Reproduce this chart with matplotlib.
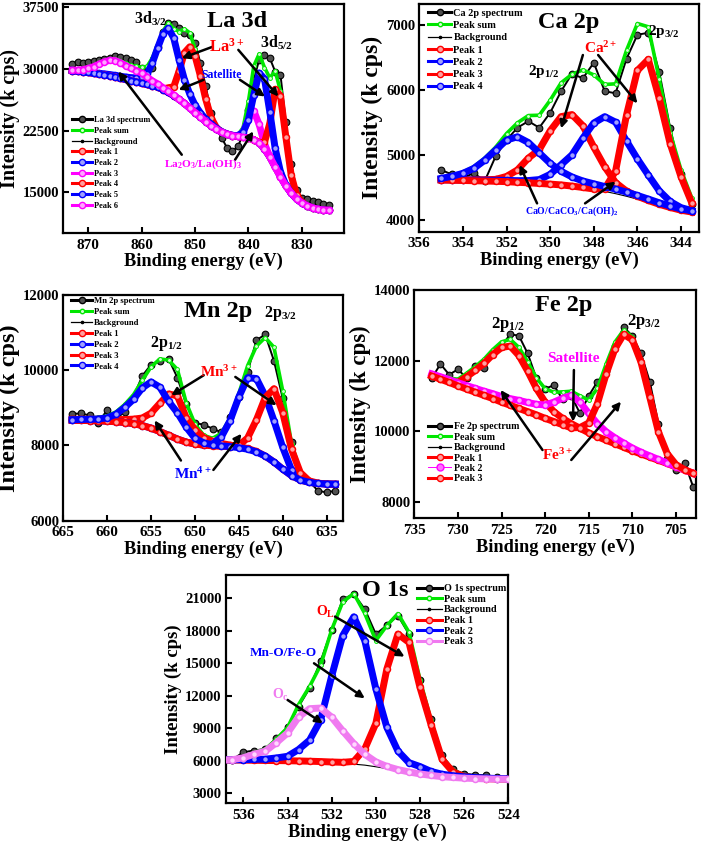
import matplotlib
matplotlib.use("Agg")
import matplotlib.pyplot as plt
import numpy as np
from matplotlib.lines import Line2D

plt.rcParams['font.family'] = ['Liberation Serif', 'DejaVu Serif']
plt.rcParams['font.weight'] = 'bold'
plt.rcParams['axes.labelweight'] = 'bold'
plt.rcParams['mathtext.fontset'] = 'custom'
plt.rcParams['mathtext.rm'] = 'Liberation Serif:bold'
plt.rcParams['mathtext.it'] = 'Liberation Serif:bold'
plt.rcParams['mathtext.bf'] = 'Liberation Serif:bold'
plt.rcParams['mathtext.default'] = 'regular'

# ---------------- La 3d (873 -> 825 eV, 1 eV step) ----------------
la_energy = [873, 872, 871, 870, 869, 868, 867, 866, 865, 864,
             863, 862, 861, 860, 859, 858, 857, 856, 855, 854,
             853, 852, 851, 850, 849, 848, 847, 846, 845, 844,
             843, 842, 841, 840, 839, 838, 837, 836, 835, 834,
             833, 832, 831, 830, 829, 828, 827, 826, 825]
la_spectrum = [30620, 30900, 30700, 30900, 31020, 31100, 31190, 31310, 31590, 31500,
               31300, 31100, 30900, 30100, 29690, 30100, 32720, 34550, 35640, 35480,
               34950, 34340, 34140, 33130, 30700, 27870, 24630, 22810, 21600, 20380,
               19980, 20580, 22000, 25040, 28680, 31110, 31710, 31310, 29690, 29280,
               23500, 18500, 15320, 14310, 14190, 13900, 13780, 13620, 13500]
la_background = [29800, 29730, 29650, 29570, 29470, 29370, 29270, 29160, 29020, 28870,
                 28720, 28560, 28420, 28270, 28110, 27950, 27790, 27500, 27150, 26750,
                 26300, 25800, 25250, 24700, 24150, 23600, 23100, 22650, 22300, 22050,
                 21900, 21800, 21700, 21600, 21400, 21000, 20300, 19300, 18100, 16900,
                 15800, 14900, 14200, 13700, 13350, 13100, 12950, 12850, 12800]
# fitted components, height above background
la_peak1 = [0, 0, 0, 0, 0, 0, 0, 0, 0, 0,
            0, 0, 0, 0, 0, 0, 0, 90, 560, 1090,
            3440, 6170, 7440, 6860, 4980, 2700, 970, 210, 0, 0,
            0, 0, 0, 0, 0, 0, 0, 0, 0, 0,
            0, 0, 0, 0, 0, 0, 0, 0, 0]
la_peak2 = [30, 40, 50, 60, 80, 100, 130, 160, 200, 240,
            300, 380, 500, 750, 1300, 2800, 4800, 6800, 7800, 7000,
            4800, 2900, 1700, 900, 500, 300, 200, 130, 80, 50,
            30, 0, 0, 0, 0, 0, 0, 0, 0, 0,
            0, 0, 0, 0, 0, 0, 0, 0, 0]
la_peak3 = [0, 0, 0, 0, 0, 0, 0, 0, 0, 0,
            0, 0, 0, 0, 0, 0, 0, 0, 0, 0,
            0, 0, 0, 0, 0, 0, 0, 0, 0, 0,
            0, 65, 590, 2250, 3500, 2250, 590, 65, 0, 0,
            0, 0, 0, 0, 0, 0, 0, 0, 0]
la_peak4 = [0, 0, 0, 0, 0, 0, 0, 0, 0, 0,
            0, 0, 0, 0, 0, 0, 0, 0, 0, 0,
            0, 0, 0, 0, 0, 0, 0, 0, 0, 0,
            0, 0, 0, 0, 0, 65, 775, 4090, 9420, 9820,
            5950, 2190, 490, 65, 0, 0, 0, 0, 0]
la_peak5 = [0, 0, 0, 0, 0, 0, 0, 0, 0, 0,
            0, 0, 0, 0, 0, 0, 0, 0, 0, 0,
            0, 0, 0, 0, 0, 0, 0, 0, 0, 0,
            0, 100, 590, 2240, 5460, 8510, 8510, 5460, 2240, 590,
            100, 0, 0, 0, 0, 0, 0, 0, 0]
la_peak6 = [55, 130, 270, 500, 820, 1210, 1600, 1890, 2000, 1890,
            1700, 1500, 1380, 1200, 900, 600, 380, 220, 120, 60,
            0, 0, 0, 0, 0, 0, 0, 0, 0, 0,
            0, 0, 0, 0, 0, 0, 0, 0, 0, 0,
            0, 0, 0, 0, 0, 0, 0, 0, 0]

# ---------------- Ca 2p (355 -> 343.5 eV, 0.5 eV step) ----------------
ca_energy = [355, 354.5, 354, 353.5, 353, 352.5, 352, 351.5, 351, 350.5, 350, 349.5,
             349, 348.5, 348, 347.5, 347, 346.5, 346, 345.5, 345, 344.5, 344, 343.5]
ca_spectrum = [4770, 4700, 4650, 4720, 4600, 4980, 5230, 5420, 5520, 5420, 5650, 5980,
               6250, 6180, 6420, 5980, 5950, 6480, 6850, 6880, 6280, 5420, 4700, 4250]
ca_background = [4615, 4612, 4608, 4604, 4600, 4595, 4590, 4580, 4572, 4562, 4552, 4540,
                 4522, 4500, 4472, 4440, 4405, 4365, 4320, 4270, 4220, 4175, 4135, 4110]
ca_peak1 = [5, 8, 10, 15, 20, 30, 80, 190, 380, 520, 820, 1050,
            1100, 950, 650, 380, 170, 80, 45, 30, 22, 18, 15, 12]
ca_peak2 = [5, 5, 8, 10, 12, 15, 20, 25, 35, 60, 150, 310,
            480, 760, 1020, 1150, 1100, 850, 620, 420, 230, 110, 55, 35]
ca_peak3 = [0, 0, 0, 0, 0, 0, 0, 0, 0, 0, 0, 0,
            0, 0, 5, 40, 350, 1250, 1980, 2200, 1650, 1000, 530, 146]
ca_peak4 = [25, 60, 110, 190, 320, 480, 640, 700, 620, 470, 320, 210,
            140, 100, 85, 75, 70, 65, 58, 52, 45, 40, 35, 30]

# ---------------- Mn 2p (664 -> 634 eV, 1 eV step) ----------------
mn_energy = [664, 663, 662, 661, 660, 659, 658, 657, 656, 655, 654,
             653, 652, 651, 650, 649, 648, 647, 646, 645, 644,
             643, 642, 641, 640, 639, 638, 637, 636, 635, 634]
mn_spectrum = [8840, 8850, 8800, 8600, 8950, 8700, 8900, 9300, 9850, 10150, 10250,
               10300, 9800, 9100, 8600, 8550, 8450, 8350, 8750, 9300, 9950,
               10800, 10950, 10250, 9250, 8100, 7250, 7050, 6800, 6750, 6800]
mn_background = [8667, 8667, 8660, 8655, 8645, 8630, 8610, 8580, 8530, 8460, 8370,
                 8270, 8170, 8090, 8040, 8010, 7990, 7975, 7960, 7940, 7900,
                 7830, 7720, 7560, 7370, 7200, 7080, 7020, 6990, 6975, 6970]
mn_peak1 = [30, 30, 35, 40, 50, 60, 80, 120, 200, 400, 750,
            1100, 1150, 650, 380, 200, 120, 80, 50, 30, 20,
            10, 0, 0, 0, 0, 0, 0, 0, 0, 0]
mn_peak2 = [0, 0, 0, 0, 0, 0, 0, 0, 0, 0, 0,
            0, 0, 0, 0, 0, 50, 250, 700, 1350, 1900,
            1950, 1600, 1100, 580, 150, 30, 5, 0, 0, 0]
mn_peak3 = [0, 0, 0, 0, 0, 0, 0, 0, 0, 0, 0,
            0, 0, 0, 0, 0, 0, 0, 10, 60, 300,
            850, 1550, 1950, 1500, 700, 200, 40, 10, 0, 0]
mn_peak4 = [20, 25, 35, 50, 90, 200, 400, 650, 1000, 1230, 1180,
            900, 700, 400, 150, 60, 30, 15, 10, 0, 0,
            0, 0, 0, 0, 0, 0, 0, 0, 0, 0]

# ---------------- Fe 2p (733 -> 703 eV, 1 eV step) ----------------
fe_energy = [733, 732, 731, 730, 729, 728, 727, 726, 725, 724, 723,
             722, 721, 720, 719, 718, 717, 716, 715, 714, 713,
             712, 711, 710, 709, 708, 707, 706, 705, 704, 703]
fe_spectrum = [11500, 11900, 11600, 11750, 11500, 11850, 11800, 12200, 12400, 12750, 12700,
               12200, 11500, 11200, 11300, 10900, 11000, 10500, 11000, 11400, 11700,
               12400, 12950, 12700, 12200, 11400, 10200, 9200, 8900, 9100, 8400]
fe_background = [11560, 11470, 11380, 11280, 11190, 11100, 11010, 10920, 10820, 10730, 10640,
                 10550, 10460, 10360, 10270, 10180, 10090, 10000, 9900, 9810, 9720,
                 9630, 9540, 9440, 9350, 9260, 9170, 9080, 8980, 8890, 8800]
fe_peak1 = [10, 20, 40, 100, 350, 620, 910, 1250, 1550, 1680, 1500,
            1150, 750, 460, 280, 180, 120, 80, 50, 30, 20,
            10, 0, 0, 0, 0, 0, 0, 0, 0, 0]
fe_peak2 = [60, 70, 80, 90, 100, 110, 120, 140, 160, 190, 230,
            260, 300, 380, 550, 750, 920, 820, 600, 400, 260,
            180, 120, 80, 50, 35, 25, 15, 10, 5, 0]
fe_peak3 = [0, 0, 0, 0, 0, 0, 0, 0, 0, 0, 0,
            0, 0, 0, 0, 0, 0, 100, 330, 970, 1900,
            2700, 3200, 3150, 2600, 1700, 800, 280, 70, 15, 0]

# ---------------- O 1s (537 -> 524 eV, 0.5 eV step) ----------------
o_energy = [537, 536.5, 536, 535.5, 535, 534.5, 534, 533.5, 533, 532.5, 532, 531.5, 531, 530.5,
            530, 529.5, 529, 528.5, 528, 527.5, 527, 526.5, 526, 525.5, 525, 524.5, 524]
o_spectrum = [6050, 6100, 6800, 6950, 7100, 8100, 9100, 11000, 12700, 15200, 18100, 20900, 21400, 20000,
              17700, 18500, 19400, 17700, 13500, 9900, 6500, 5200, 4800, 4700, 4650, 4500, 4400]
o_background = [6050, 6040, 6030, 6015, 6000, 5985, 5965, 5940, 5910, 5870, 5820, 5760, 5690, 5600,
                5450, 5280, 5100, 4930, 4770, 4640, 4530, 4460, 4400, 4360, 4330, 4310, 4300]
o_peak1 = [30, 30, 30, 30, 30, 35, 40, 45, 50, 60, 70, 100, 250, 1500,
           4000, 9200, 12600, 12000, 8000, 4700, 1600, 500, 150, 50, 20, 10, 5]
o_peak2 = [40, 50, 70, 120, 150, 280, 450, 1100, 2000, 3900, 8000, 11800, 13600, 11500,
           7200, 3800, 1800, 900, 700, 380, 230, 160, 120, 90, 70, 55, 45]
o_peak3 = [20, 60, 250, 600, 900, 1700, 2600, 4100, 4900, 5000, 4200, 3000, 1900, 1000,
           450, 200, 90, 40, 20, 10, 5, 0, 0, 0, 0, 0, 0]

RED, BLUE, MAG, GREEN, VIOLET = '#ff0000', '#0000ff', '#ff00ff', '#00e600', '#f07af0'
LIGHT = {RED: '#ffa0a0', BLUE: '#a0a0ff', MAG: '#ffa8ff', VIOLET: '#ffd8ff'}

W, H = 702, 847
fig = plt.figure(figsize=(W / 100, H / 100), dpi=100)


def box(l, r, t, b):
    return [l / W, 1 - b / H, (r - l) / W, (b - t) / H]


def draw_fit(ax, energy, spectrum, background, peaks, colors):
    e = np.asarray(energy, float)
    bg = np.asarray(background, float)
    total = bg + np.sum(np.asarray(peaks, float), axis=0)
    ax.plot(e, spectrum, color='k', lw=1.4, marker='o', ms=4.8, mfc='#505050',
            mec='k', mew=0.8, zorder=2)
    ax.plot(e, total, color=GREEN, lw=2.6, zorder=3)
    ax.plot(e, total, ls='none', marker='o', ms=2.8, mfc='#d0ffd0', mec=GREEN,
            mew=0.7, zorder=3)
    ax.plot(e, bg, color='k', lw=0.8, zorder=3.5)
    for i, (p, c) in enumerate(zip(peaks, colors)):
        y = bg + np.asarray(p, float)
        ax.plot(e, y, color=c, lw=5, solid_joinstyle='round', zorder=4 + i * 0.1)
        ax.plot(e, y, ls='none', marker='o', ms=4.3, mfc=LIGHT[c], mec=c, mew=1.1,
                zorder=4 + i * 0.1)


def style(ax, xlim, ylim, xticks, yticks, ylab_size):
    ax.set_xlim(*xlim)
    ax.set_ylim(*ylim)
    ax.set_xticks(xticks)
    ax.set_yticks(yticks)
    for s in ax.spines.values():
        s.set_linewidth(1.6)
    ax.tick_params(direction='in', length=4, width=1.5, top=False, right=False)
    ax.tick_params(axis='x', labelsize=11, pad=4)
    ax.tick_params(axis='y', labelsize=10.5, pad=3)
    ax.set_xlabel('Binding energy (eV)', fontsize=13.2, labelpad=1)
    ax.set_ylabel('Intensity (k cps)', fontsize=ylab_size, labelpad=2)


def legend(ax, labels, colors, anchor, size, spacing, hl, special=None):
    handles = [Line2D([], [], color='k', lw=2.2, marker='o', ms=4.5, mfc='#505050', mec='k'),
               Line2D([], [], color=GREEN, lw=2.2, marker='o', ms=3.2, mfc='#d0ffd0', mec=GREEN),
               Line2D([], [], color='k', lw=0.9, marker='o', ms=1.6, mfc='k', mec='k')]
    for i, c in enumerate(colors):
        if special == i:
            handles.append(Line2D([], [], color=c, lw=0.7, marker='o', ms=5, mfc='#ff70ff', mec=c))
        else:
            handles.append(Line2D([], [], color=c, lw=2.2, marker='o', ms=4.5, mfc=LIGHT[c], mec=c))
    ax.legend(handles, labels, loc='upper left', bbox_to_anchor=anchor, frameon=False,
              fontsize=size, labelspacing=spacing, handlelength=hl, handletextpad=0.25,
              borderpad=0, borderaxespad=0, numpoints=1)


def arrow(ax, tail, head):
    ax.annotate('', xy=head, xytext=tail,
                arrowprops=dict(arrowstyle='-|>', color='k', lw=1.8, shrinkA=0, shrinkB=0,
                                mutation_scale=11), zorder=10)


def label(ax, x, y, s, size, color='k'):
    ax.text(x, y, s, fontsize=size, color=color, ha='center', va='center', zorder=11)


# ---- La 3d
ax = fig.add_axes(box(63.3, 344, 4, 233))
la_colors = [RED, BLUE, MAG, RED, BLUE, MAG]
draw_fit(ax, la_energy, la_spectrum, la_background,
         [la_peak1, la_peak2, la_peak3, la_peak4, la_peak5, la_peak6], la_colors)
style(ax, (874.7, 822.1), (10050, 37900), [870, 860, 850, 840, 830],
      [15000, 22500, 30000, 37500], 14.5)
legend(ax, ['La 3d spectrum', 'Peak sum', 'Background', 'Peak 1', 'Peak 2', 'Peak 3',
            'Peak 4', 'Peak 5', 'Peak 6'], la_colors, (0.03, 0.51), 6.0, 0.32, 2.4)
ax.text(0.62, 0.925, 'La 3d', transform=ax.transAxes, fontsize=17.5, ha='center', va='center')
label(ax, 858.4, 36160, r'3d$_{3/2}$', 11.5)
label(ax, 834.7, 33130, r'3d$_{5/2}$', 11.5)
label(ax, 844.0, 32680, r'La$^{3+}$', 12, RED)
label(ax, 845.0, 29280, 'Satellite', 8.5, BLUE)
label(ax, 848.4, 18360, r'La$_2$O$_3$/La(OH)$_3$', 8.2, MAG)
arrow(ax, (846.8, 32680), (852.5, 31310))
arrow(ax, (841.9, 32320), (834.4, 26650))
arrow(ax, (848.4, 28680), (853.1, 27460))
arrow(ax, (841.6, 28680), (836.9, 26650))
arrow(ax, (852.5, 19570), (864.4, 29690))
arrow(ax, (842.5, 18970), (839.1, 22410))

# ---- Ca 2p
ax = fig.add_axes(box(419.3, 698.7, 4, 231.7))
ca_colors = [RED, BLUE, RED, BLUE]
draw_fit(ax, ca_energy, ca_spectrum, ca_background,
         [ca_peak1, ca_peak2, ca_peak3, ca_peak4], ca_colors)
style(ax, (355.92, 343.19), (3820, 7323), [356, 354, 352, 350, 348, 346, 344],
      [4000, 5000, 6000, 7000], 17)
legend(ax, ['Ca 2p spectrum', 'Peak sum', 'Background', 'Peak 1', 'Peak 2', 'Peak 3',
            'Peak 4'], ca_colors, (0.032, 0.98), 7.4, 0.3, 2.2)
ax.text(0.534, 0.92, 'Ca 2p', transform=ax.transAxes, fontsize=17.5, ha='center', va='center')
label(ax, 350.3, 6282, r'2p$_{1/2}$', 11)
label(ax, 344.8, 6897, r'2p$_{3/2}$', 11)
label(ax, 347.7, 6641, r'Ca$^{2+}$', 11, RED)
label(ax, 349.0, 4128, r'CaO/CaCO$_3$/Ca(OH)$_2$', 7, BLUE)
arrow(ax, (348.5, 6538), (349.5, 5410))
arrow(ax, (347.8, 6538), (346.0, 5795))
arrow(ax, (350.6, 4256), (351.4, 4846))
arrow(ax, (348.4, 4256), (347.0, 4590))

# ---- Mn 2p
ax = fig.add_axes(box(63.3, 343.3, 295, 520.7))
mn_colors = [RED, BLUE, RED, BLUE]
draw_fit(ax, mn_energy, mn_spectrum, mn_background,
         [mn_peak1, mn_peak2, mn_peak3, mn_peak4], mn_colors)
style(ax, (665, 633.1), (6000, 12000), [665, 660, 655, 650, 645, 640, 635],
      [6000, 8000, 10000, 12000], 17.5)
legend(ax, ['Mn 2p spectrum', 'Peak sum', 'Background', 'Peak 1', 'Peak 2', 'Peak 3',
            'Peak 4'], mn_colors, (0.029, 0.99), 6.2, 0.33, 2.4)
ax.text(0.554, 0.925, 'Mn 2p', transform=ax.transAxes, fontsize=17.5, ha='center', va='center')
label(ax, 653.2, 10711, r'2p$_{1/2}$', 11.5)
label(ax, 640.3, 11511, r'2p$_{3/2}$', 11.5)
label(ax, 647.3, 9956, r'Mn$^{3+}$', 11, RED)
label(ax, 650.3, 7244, r'Mn$^{4+}$', 11, BLUE)
arrow(ax, (649.0, 9867), (652.7, 9333))
arrow(ax, (645.4, 9822), (640.7, 9067))
arrow(ax, (651.6, 7600), (654.6, 8667))
arrow(ax, (647.9, 7350), (644.7, 8311))

# ---- Fe 2p
ax = fig.add_axes(box(414.3, 696, 290, 518.3))
fe_colors = [RED, MAG, RED]
draw_fit(ax, fe_energy, fe_spectrum, fe_background,
         [fe_peak1, fe_peak2, fe_peak3], fe_colors)
style(ax, (735, 702.7), (7526, 14000), [735, 730, 725, 720, 715, 710, 705],
      [8000, 10000, 12000, 14000], 16.5)
legend(ax, ['Fe 2p spectrum', 'Peak sum', 'Background', 'Peak 1', 'Peak 2', 'Peak 3'],
       fe_colors, (0.049, 0.42), 7.1, 0.14, 2.35, special=1)
ax.text(0.532, 0.934, 'Fe 2p', transform=ax.transAxes, fontsize=17.5, ha='center', va='center')
label(ax, 724.3, 13008, r'2p$_{1/2}$', 12)
label(ax, 708.6, 13102, r'2p$_{3/2}$', 12)
label(ax, 716.8, 12062, 'Satellite', 11, MAG)
label(ax, 718.6, 9322, r'Fe$^{3+}$', 11, RED)
arrow(ax, (716.7, 11730), (716.8, 10267))
arrow(ax, (720.3, 9463), (725.1, 11164))
arrow(ax, (717.0, 9180), (711.3, 10834))

# ---- O 1s
ax = fig.add_axes(box(225.7, 508.3, 575, 803.3))
o_colors = [RED, BLUE, VIOLET]
draw_fit(ax, o_energy, o_spectrum, o_background, [o_peak1, o_peak2, o_peak3], o_colors)
style(ax, (536.8, 524), (2077, 23150), [536, 534, 532, 530, 528, 526, 524],
      [3000, 6000, 9000, 12000, 15000, 18000, 21000], 13.5)
legend(ax, ['O 1s spectrum', 'Peak sum', 'Background', 'Peak 1', 'Peak 2', 'Peak 3'],
       o_colors, (0.676, 0.96), 7.3, 0.15, 2.45)
ax.text(0.564, 0.934, 'O 1s', transform=ax.transAxes, fontsize=17.5, ha='center', va='center')
label(ax, 532.3, 19770, r'O$_L$', 10, RED)
label(ax, 534.2, 15920, 'Mn-O/Fe-O', 9.5, BLUE)
label(ax, 534.3, 12080, r'O$_c$', 10, VIOLET)
arrow(ax, (531.85, 19310), (528.7, 15615))
arrow(ax, (532.8, 15000), (530.5, 11770))
arrow(ax, (534.0, 11620), (532.4, 9460))

fig.savefig('out.png', dpi=100)
